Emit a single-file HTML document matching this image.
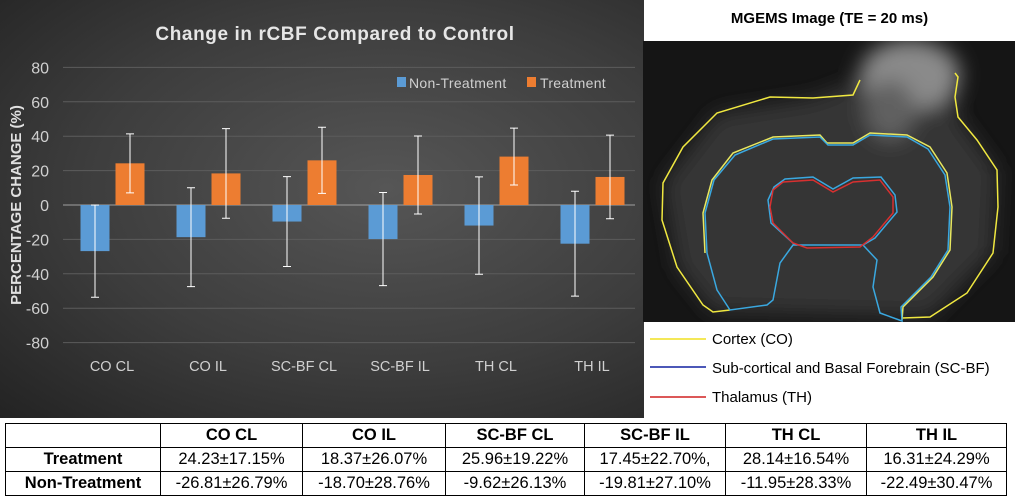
<!DOCTYPE html>
<html><head><meta charset="utf-8"><style>
body{margin:0;width:1015px;height:503px;background:#fff;position:relative;overflow:hidden;font-family:"Liberation Sans",Arial,sans-serif}
#chart{position:absolute;left:0;top:0;width:644px;height:418px;background:radial-gradient(ellipse at 60% 45%,#565656 0%,#3d3d3d 55%,#232323 100%)}
table{position:absolute;left:5px;top:423px;border-collapse:collapse;font-size:16.5px}
td{border:1.5px solid #000;text-align:center;height:23px;padding:0}
th{border:1.5px solid #000;font-weight:bold;height:23px;padding:0}
</style></head><body>
<div id="chart">
<svg id="svg" width="644" height="418" font-family="Liberation Sans, Arial, sans-serif">
<text x="335" y="40" text-anchor="middle" fill="#e6e6e6" font-size="19" font-weight="bold" letter-spacing="0.6">Change in rCBF Compared to Control</text>
<g>
<rect x="397" y="77" width="9" height="10" fill="#5b9bd5"/>
<text x="409" y="88" fill="#d0d0d0" font-size="14" letter-spacing="0.3">Non-Treatment</text>
<rect x="527" y="77" width="9" height="10" fill="#ed7d31"/>
<text x="540" y="88" fill="#d0d0d0" font-size="14" letter-spacing="0.3">Treatment</text>
</g>
<text transform="translate(21,205) rotate(-90)" text-anchor="middle" fill="#e0e0e0" font-size="15" font-weight="bold">PERCENTAGE CHANGE (%)</text>
<g id="g"></g>
</svg>
</div>
<script>
const categories=["CO CL","CO IL","SC-BF CL","SC-BF IL","TH CL","TH IL"];
const nonTreatment=[-26.81,-18.70,-9.62,-19.81,-11.95,-22.49];
const nonTreatmentErr=[26.79,28.76,26.13,27.10,28.33,30.47];
const treatment=[24.23,18.37,25.96,17.45,28.14,16.31];
const treatmentErr=[17.15,26.07,19.22,22.70,16.54,24.29];
const yTicks=[80,60,40,20,0,-20,-40,-60,-80];
const NS="http://www.w3.org/2000/svg";
const g=document.getElementById('g');
const y=v=>205-v*1.72;
const x=i=>112+i*96;
function mk(t,a){const e=document.createElementNS(NS,t);for(const k in a)e.setAttribute(k,a[k]);g.appendChild(e);return e;}
yTicks.forEach(t=>{
 const l=mk('line',{x1:63,x2:635,y1:y(t),y2:y(t),stroke:t===0?'#a0a0a0':'#5c5c5c','stroke-width':1});
 
 
 const tx=mk('text',{x:49,y:y(t)+6,'text-anchor':'end',fill:'#d0d0d0','font-size':16});
 tx.textContent=t;
 
 
});
categories.forEach((c,i)=>{
 const cx=x(i);
 const series=[[nonTreatment[i],nonTreatmentErr[i],cx-17,'#5b9bd5','bar-non-treatment'],[treatment[i],treatmentErr[i],cx+18,'#ed7d31','bar-treatment']];
 series.forEach(([v,e,bx,col,nm])=>{
  const r=mk('rect',{x:bx-14.5,y:Math.min(y(v),y(0)),width:29,height:Math.abs(y(v)-y(0)),fill:col});
  
  
  const eb=mk('path',{d:`M${bx} ${y(v+e)}V${y(v-e)}M${bx-4} ${y(v+e)}H${bx+4}M${bx-4} ${y(v-e)}H${bx+4}`,stroke:'#fff','stroke-width':1,fill:'none'});
  
  
 });
 const t=mk('text',{x:cx,y:371,'text-anchor':'middle',fill:'#d0d0d0','font-size':14.5});
 t.textContent=c;
 
 
});
</script>
<div style="position:absolute;left:644px;top:10px;width:371px;text-align:center;font-weight:bold;font-size:15px">MGEMS Image (TE = 20 ms)</div>
<svg style="position:absolute;left:643px;top:41px" width="372" height="281">
<defs><filter id="bl"><feGaussianBlur stdDeviation="10"/></filter></defs>
<rect width="372" height="281" fill="#151515"/>
<g transform="translate(-643,-41)" filter="url(#bl)">
<path d="M860 80L813 98L717 113L663 183L677 267L713 312L930 317L993 253L997 170L958 117L955 73Z" fill="#363636"/>
<ellipse cx="910" cy="75" rx="50" ry="35" fill="#8a8a8a"/>
<ellipse cx="890" cy="110" rx="25" ry="30" fill="#606060"/>
</g>
<g transform="translate(-643,-41)" fill="none" stroke-width="1.5">
<path stroke="#f0e840" d="M860 80L853 95L813 98L770 97L717 113L683 147L663 183L662 220L677 267L703 305L713 312L730 310M902 318L930 317L967 293L993 253L998 207L997 170L977 140L958 117L955 97L958 77L955 73"/>
<path stroke="#e8e860" d="M705 253L703 213L712 180L733 153L773 137L820 135L827 143L853 143L870 133L907 135L930 147L947 173L952 207L950 250L933 277L903 307L902 320"/>
<path stroke="#3aa8e0" d="M707 253L705 213L714 180L735 155L773 139L820 137L828 145L853 145L870 135L907 137L928 149L945 175L950 207L948 250L931 277L901 307L902 321L880 313L873 287L877 260L863 245L793 245L780 263L773 300L767 305L730 310L717 290Z"/>
<path stroke="#3aa8e0" d="M795 245L771 223L768 200L774 187L785 179L813 177L833 189L853 178L881 177L895 195L897 212L875 238L863 245"/>
<path stroke="#d83030" d="M773 190L783 182L813 180L833 192L853 182L880 180L893 197L893 213L873 237L860 247L807 248L793 243L773 223L770 207Z"/>
</g>
</svg>
<svg style="position:absolute;left:644px;top:322px" width="371" height="96" font-family="Liberation Sans, Arial, sans-serif" font-size="15">
<line x1="6" x2="62" y1="17" y2="17" stroke="#f0e020" stroke-width="1.5"/><text x="68" y="22">Cortex (CO)</text>
<line x1="6" x2="62" y1="45" y2="45" stroke="#1020a0" stroke-width="1.5"/><text x="68" y="51">Sub-cortical and Basal Forebrain (SC-BF)</text>
<line x1="6" x2="62" y1="75" y2="75" stroke="#d02020" stroke-width="1.5"/><text x="68" y="80">Thalamus (TH)</text>
</svg>
<table>
<tr><th style="width:154px"></th><th style="width:141px">CO CL</th><th style="width:142px">CO IL</th><th style="width:138px">SC-BF CL</th><th style="width:140px">SC-BF IL</th><th style="width:140px">TH CL</th><th style="width:139px">TH IL</th></tr>
<tr><th>Treatment</th><td>24.23±17.15%</td><td>18.37±26.07%</td><td>25.96±19.22%</td><td>17.45±22.70%,</td><td>28.14±16.54%</td><td>16.31±24.29%</td></tr>
<tr><th>Non-Treatment</th><td>-26.81±26.79%</td><td>-18.70±28.76%</td><td>-9.62±26.13%</td><td>-19.81±27.10%</td><td>-11.95±28.33%</td><td>-22.49±30.47%</td></tr>
</table>
</body></html>
